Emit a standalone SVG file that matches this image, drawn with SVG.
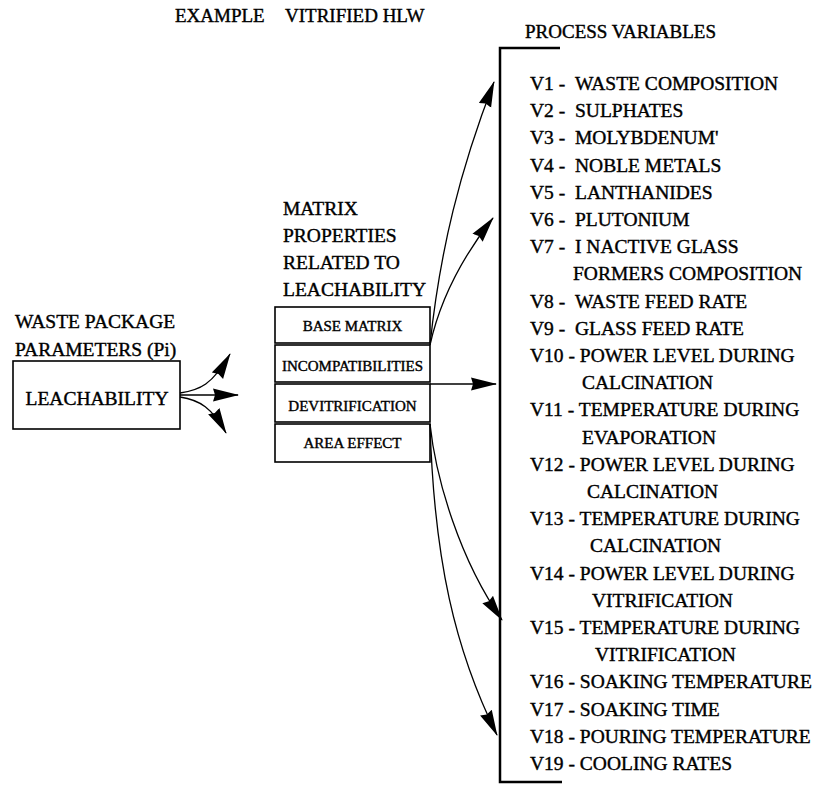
<svg xmlns="http://www.w3.org/2000/svg" width="829" height="793" viewBox="0 0 829 793">
  <style>
    text { font-family: "Liberation Serif", "Times New Roman", serif; fill: #000; stroke: #000; stroke-width: 0.4; }
    .t { font-size: 19.5px; }
    .h { font-size: 19px; }
    .s { font-size: 15px; text-anchor: middle; }
    .box { fill: #fff; stroke: #000; stroke-width: 1.6; }
    .edge { fill: none; stroke: #000; stroke-width: 1.3; marker-end: url(#head); }
    .bracket { fill: none; stroke: #000; stroke-width: 2.5; }
  </style>
  <defs>
    <marker id="head" viewBox="0 0 26 14" refX="25" refY="7" markerWidth="26" markerHeight="14" markerUnits="userSpaceOnUse" orient="auto">
      <path d="M0,0.5 L26,7 L0,13.5 L2,7 Z" fill="#000"/>
    </marker>
  </defs>
  <rect width="829" height="793" fill="#fff"/>

  <!-- heading -->
  <text id="title" class="h" x="175" y="22">EXAMPLE <tspan x="285">VITRIFIED HLW</tspan></text>

  <!-- waste package parameter -->
  <g id="package">
    <text class="t" x="15" y="328">WASTE PACKAGE</text>
    <text class="t" x="15" y="356">PARAMETERS (Pi)</text>
    <rect class="box" x="13" y="361" width="167" height="68" stroke-width="2"/>
    <text class="t" x="97" y="405" text-anchor="middle">LEACHABILITY</text>
  </g>

  <!-- matrix properties -->
  <g id="matrix">
    <text class="t" x="283" y="215">MATRIX</text>
    <text class="t" x="283" y="242">PROPERTIES</text>
    <text class="t" x="283" y="269">RELATED TO</text>
    <text class="t" x="283" y="296">LEACHABILITY</text>
  </g>
  <g id="base-matrix">
    <rect class="box" x="275" y="307" width="155" height="36"/>
    <text class="s" x="352.5" y="331">BASE MATRIX</text>
  </g>
  <g id="incompatibilities">
    <rect class="box" x="275" y="345" width="155" height="37"/>
    <text class="s" x="352.5" y="371">INCOMPATIBILITIES</text>
  </g>
  <g id="devitrification">
    <rect class="box" x="275" y="384" width="155" height="38"/>
    <text class="s" x="352.5" y="411">DEVITRIFICATION</text>
  </g>
  <g id="area-effect">
    <rect class="box" x="275" y="424" width="155" height="38"/>
    <text class="s" x="352.5" y="448">AREA EFFECT</text>
  </g>

  <!-- process variables -->
  <g id="process-variables">
    <text class="h" x="525" y="38">PROCESS VARIABLES</text>
    <path class="bracket" d="M560,48 L500,48 L500,782 L562,782"/>
    <text class="t" x="530" y="90">V1 - <tspan x="575">WASTE COMPOSITION</tspan></text>
    <text class="t" x="530" y="117.2">V2 - <tspan x="575">SULPHATES</tspan></text>
    <text class="t" x="530" y="144.4">V3 - <tspan x="575">MOLYBDENUM'</tspan></text>
    <text class="t" x="530" y="171.6">V4 - <tspan x="575">NOBLE METALS</tspan></text>
    <text class="t" x="530" y="198.8">V5 - <tspan x="575">LANTHANIDES</tspan></text>
    <text class="t" x="530" y="226">V6 - <tspan x="575">PLUTONIUM</tspan></text>
    <text class="t" x="530" y="253.2">V7 - <tspan x="575">I NACTIVE GLASS</tspan></text>
    <text class="t" x="573" y="280.4">FORMERS  COMPOSITION</text>
    <text class="t" x="530" y="307.6">V8 - <tspan x="575">WASTE FEED RATE</tspan></text>
    <text class="t" x="530" y="334.8">V9 - <tspan x="575">GLASS FEED RATE</tspan></text>
    <text class="t" x="530" y="362">V10 - POWER LEVEL DURING</text>
    <text class="t" x="582" y="389.2">CALCINATION</text>
    <text class="t" x="530" y="416.4">V11 - TEMPERATURE DURING</text>
    <text class="t" x="582" y="443.6">EVAPORATION</text>
    <text class="t" x="530" y="470.8">V12 - POWER LEVEL DURING</text>
    <text class="t" x="587" y="498">CALCINATION</text>
    <text class="t" x="530" y="525.2">V13 - TEMPERATURE DURING</text>
    <text class="t" x="590" y="552.4">CALCINATION</text>
    <text class="t" x="530" y="579.6">V14 - POWER LEVEL DURING</text>
    <text class="t" x="592" y="606.8">VITRIFICATION</text>
    <text class="t" x="530" y="634">V15 - TEMPERATURE DURING</text>
    <text class="t" x="595" y="661.2">VITRIFICATION</text>
    <text class="t" x="530" y="688.4">V16 - SOAKING TEMPERATURE</text>
    <text class="t" x="530" y="715.6">V17 - SOAKING TIME</text>
    <text class="t" x="530" y="742.8">V18 - POURING TEMPERATURE</text>
    <text class="t" x="530" y="770">V19 - COOLING RATES</text>
  </g>

  <!-- connectors -->
  <g id="connectors">
    <path class="edge" d="M180,393 C200,390 212,385 230,354"/>
    <path class="edge" d="M180,395 L238,395"/>
    <path class="edge" d="M180,397 C200,400 212,408 226,433"/>
    <path class="edge" d="M430,345 C440,250 460,170 494,82"/>
    <path class="edge" d="M430,345 C440,300 460,260 493,218"/>
    <path class="edge" d="M430,384 L496,384"/>
    <path class="edge" d="M430,424 C436,480 460,560 502,620"/>
    <path class="edge" d="M430,424 C434,560 455,650 497,735"/>
  </g>
</svg>
